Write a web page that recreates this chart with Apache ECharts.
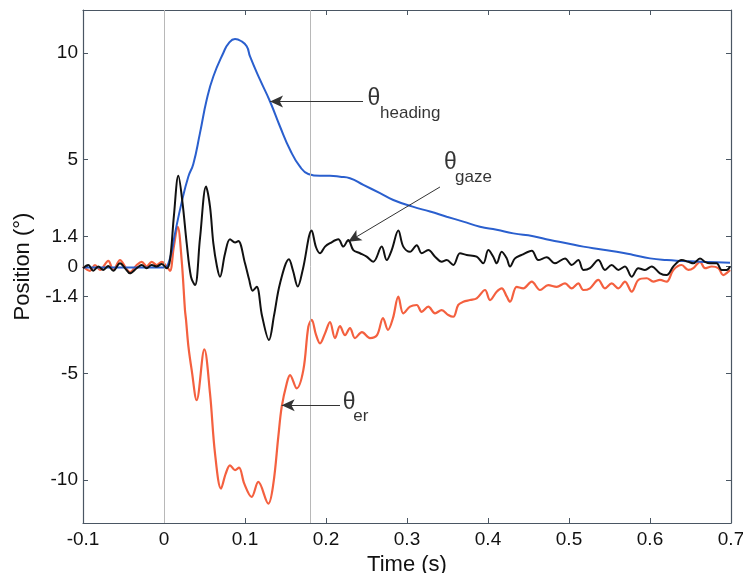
<!DOCTYPE html>
<html>
<head>
<meta charset="utf-8">
<script src="https://cdn.jsdelivr.net/npm/echarts@6/dist/echarts.min.js"></script>
<style>
html,body{margin:0;padding:0;background:#fff;}
#chart{width:743px;height:573px;}
</style>
</head>
<body>
<div id="chart"></div>
<script>
// ---- data (time in s, position in degrees) ----
const headingT = [-0.1,-0.05,0,0.0012,0.0074,0.0136,0.0218,0.03,0.0362,0.0444,0.0527,0.0609,0.0732,0.08,0.0877,0.095,0.1021,0.1062,0.1185,0.1309,0.1432,0.1556,0.1679,0.1781,0.1926,0.2049,0.2173,0.2296,0.2461,0.2667,0.2831,0.307,0.3284,0.349,0.3695,0.3901,0.4107,0.4313,0.4559,0.4765,0.4971,0.5177,0.5383,0.5589,0.5794,0.6,0.6206,0.6412,0.6617,0.6823,0.6988];
const headingV = [-0.05,-0.05,-0.05,-0.05,0.38,1.55,3.0,4.2,4.8,6.24,7.8,8.89,9.99,10.45,10.64,10.55,10.3,9.83,8.74,7.72,6.55,5.46,4.67,4.33,4.24,4.24,4.2,4.13,3.82,3.43,3.11,2.8,2.57,2.33,2.1,1.86,1.72,1.55,1.42,1.24,1.09,0.93,0.81,0.69,0.54,0.38,0.3,0.26,0.22,0.2,0.18];

const gazeT = [-0.1,-0.0935,-0.0873,-0.0811,-0.0749,-0.0688,-0.0626,-0.0543,-0.0481,-0.042,-0.0337,-0.0275,-0.0214,-0.0152,-0.009,-0.0028,0.0033,0.0074,0.0123,0.0177,0.0228,0.028,0.0333,0.0383,0.0444,0.0519,0.0568,0.0609,0.0654,0.0691,0.0753,0.0815,0.0877,0.0917,0.1,0.105,0.1095,0.1144,0.121,0.1296,0.1358,0.1432,0.1543,0.1593,0.1651,0.1716,0.1823,0.1877,0.1926,0.1988,0.2049,0.2152,0.2214,0.2275,0.2337,0.242,0.2502,0.2584,0.2688,0.2749,0.2811,0.2893,0.2954,0.3037,0.312,0.3181,0.3263,0.3346,0.3428,0.349,0.3572,0.3654,0.3737,0.386,0.3942,0.4004,0.4065,0.4107,0.4169,0.4231,0.4272,0.4333,0.4416,0.454,0.4621,0.4725,0.4827,0.4951,0.5033,0.5115,0.5177,0.5259,0.5362,0.5444,0.5527,0.5609,0.5691,0.5774,0.5856,0.5938,0.6021,0.6123,0.6206,0.6288,0.6391,0.6473,0.6535,0.6617,0.6679,0.6741,0.6823,0.6885,0.6947,0.6988];
const gazeV = [-0.08,0.07,-0.2,0,-0.16,0.02,-0.2,0.15,-0.08,-0.32,-0.08,0.07,-0.08,0.07,0,0.12,-0.08,0.3,2.4,4.24,3.0,1.09,-0.48,-0.87,1.3,3.74,2.8,1.09,0,-0.48,0.6,1.27,1.12,1.19,0.15,-0.6,-1.13,-0.95,-2.3,-3.44,-2.3,-0.79,0.34,-0.2,-0.94,-0.1,1.68,0.9,0.62,0.93,1.09,1.27,0.93,1.24,0.77,0.62,0.46,0.22,0.93,0.3,0.77,1.68,0.93,0.69,1.0,0.62,0.77,0.46,0.22,0.3,0.07,0.62,0.54,0.46,0.15,0.77,0.46,0.15,0.69,0.38,0,0.38,0.54,0.74,0.3,0.43,0.15,0.38,0.07,0.3,-0.16,-0.08,0.3,-0.16,0.07,-0.16,0,-0.48,-0.08,-0.16,0,-0.32,-0.4,0,0.3,0.22,0.15,0.38,0.22,0.15,0.15,-0.16,-0.16,0];

const erT = [-0.1,-0.0914,-0.0852,-0.079,-0.0688,-0.0626,-0.0543,-0.0469,-0.042,-0.0337,-0.0275,-0.0214,-0.0152,-0.009,-0.0028,0.0033,0.0074,0.012,0.0169,0.0218,0.0259,0.0272,0.0302,0.0342,0.0403,0.0498,0.0568,0.063,0.0704,0.0762,0.0815,0.0877,0.0926,0.0991,0.1082,0.1164,0.1288,0.135,0.1411,0.1453,0.1515,0.1556,0.1638,0.172,0.1782,0.1823,0.1877,0.1926,0.1988,0.2049,0.2111,0.2173,0.2235,0.2296,0.2358,0.2444,0.2543,0.263,0.2704,0.2765,0.2827,0.2893,0.2954,0.3037,0.312,0.3181,0.3263,0.3346,0.3428,0.351,0.3572,0.3633,0.3695,0.3778,0.386,0.3963,0.4025,0.4107,0.4169,0.4231,0.4272,0.4354,0.4436,0.454,0.4642,0.4744,0.4848,0.4951,0.5033,0.5115,0.5177,0.5259,0.5362,0.5444,0.5527,0.5609,0.5691,0.5774,0.5856,0.5959,0.6041,0.6123,0.6206,0.6288,0.6391,0.6473,0.6535,0.6617,0.6679,0.6762,0.6843,0.6905,0.6967,0.6988];
const erV = [0,-0.2,0.07,-0.16,0.26,-0.16,0.3,-0.08,-0.26,0.07,0.22,0,0.22,0.07,0.22,0,-0.2,0.9,1.86,0.3,-2.04,-2.5,-3.76,-4.85,-6.25,-3.88,-5.94,-8.75,-10.39,-9.69,-9.3,-9.53,-9.41,-10.16,-10.78,-10.08,-11.09,-10.16,-7.97,-6.57,-5.47,-5.08,-5.7,-4.85,-2.82,-2.5,-3.2,-3.6,-3.13,-2.6,-3.35,-2.79,-3.21,-2.88,-3.35,-3.07,-3.35,-3.21,-2.41,-2.97,-2.41,-1.41,-2.19,-1.88,-1.8,-2.12,-1.88,-2.19,-2.04,-2.27,-2.35,-1.8,-1.65,-1.57,-1.49,-1.1,-1.57,-1.18,-1.02,-1.4,-1.65,-0.95,-1.02,-0.71,-1.1,-0.87,-0.95,-0.79,-1.02,-0.79,-1.1,-1.02,-0.63,-1.02,-0.79,-1.02,-0.71,-1.18,-0.63,-0.55,-0.71,-0.63,-0.71,-0.16,0.07,-0.16,-0.08,0.22,-0.08,0,-0.08,-0.4,-0.24,-0.16];

const xTicks = [-0.1,0,0.1,0.2,0.3,0.4,0.5,0.6,0.7];
const yTicks = [-10,-5,-1.4,0,1.4,5,10];
const eventLines = [0, 0.1775];

// annotation text anchors [time, position, text] and arrows [[from],[to]]
const labelTheta = [[0.2512,7.85],[0.3457,4.87],[0.2206,-6.39]];
const labelSub = [[0.2667,7.19,'heading'],[0.3593,4.19,'gaze'],[0.2337,-7.0,'er']];
const arrows = [
  [[0.2457,7.72],[0.1309,7.72]],
  [[0.3407,3.72],[0.2275,1.16]],
  [[0.2173,-6.49],[0.1453,-6.49]]
];

const zip = (t,v) => t.map((x,i)=>[x,v[i]]);
const FONT = 'Liberation Sans, Arial, Helvetica, sans-serif';
const axisCol = '#4a5663';

const chart = echarts.init(document.getElementById('chart'));
chart.setOption({
  animation:false,
  backgroundColor:'#fff',
  grid:{left:83,right:12,top:10,bottom:50,containLabel:false,outerBoundsMode:'none'},
  xAxis:[{
    type:'value',min:-0.1,max:0.7,
    name:'Time (s)',nameLocation:'middle',nameGap:24,
    nameTextStyle:{fontFamily:FONT,fontSize:22,color:'#111'},
    axisLine:{show:true,onZero:false,lineStyle:{color:axisCol,width:1.2}},
    axisTick:{show:true,inside:true,length:5,customValues:xTicks,lineStyle:{color:axisCol}},
    axisLabel:{fontFamily:FONT,fontSize:19,color:'#111',margin:7,customValues:xTicks,
      hideOverlap:false,formatter:v=>String(Math.round(v*10)/10)},
    splitLine:{show:false}
  },{
    type:'value',min:-0.1,max:0.7,position:'top',
    axisLine:{show:true,onZero:false,lineStyle:{color:axisCol,width:1.2}},
    axisTick:{show:true,inside:true,length:5,customValues:xTicks,lineStyle:{color:axisCol}},
    axisLabel:{show:false},splitLine:{show:false}
  }],
  yAxis:[{
    type:'value',min:-12,max:12,
    name:'Position (°)',nameLocation:'middle',nameGap:46,nameRotate:90,
    nameTextStyle:{fontFamily:FONT,fontSize:22,color:'#111'},
    axisLine:{show:true,onZero:false,lineStyle:{color:axisCol,width:1.2}},
    axisTick:{show:true,inside:true,length:5,customValues:yTicks,lineStyle:{color:axisCol}},
    axisLabel:{fontFamily:FONT,fontSize:19,color:'#111',margin:5,customValues:yTicks,
      hideOverlap:false,formatter:v=>String(Math.round(v*10)/10)},
    splitLine:{show:false}
  },{
    type:'value',min:-12,max:12,position:'right',
    axisLine:{show:true,onZero:false,lineStyle:{color:axisCol,width:1.2}},
    axisTick:{show:true,inside:true,length:5,customValues:yTicks,lineStyle:{color:axisCol}},
    axisLabel:{show:false},splitLine:{show:false}
  }],
  series:[
    {
      name:'events',type:'line',data:[],
      markLine:{silent:true,symbol:['none','none'],label:{show:false},
        lineStyle:{color:'#b8b8b8',width:1,type:'solid'},
        data:eventLines.map(x=>({xAxis:x}))}
    },
    {
      name:'θer',type:'line',data:zip(erT,erV),showSymbol:false,smooth:0.35,
      lineStyle:{color:'#f4603f',width:2.2},z:3
    },
    {
      name:'θheading',type:'line',data:zip(headingT,headingV),showSymbol:false,smooth:0.5,
      lineStyle:{color:'#2a5fce',width:2},z:4
    },
    {
      name:'θgaze',type:'line',data:zip(gazeT,gazeV),showSymbol:false,smooth:0.35,
      lineStyle:{color:'#111',width:2},z:5,
      markLine:{silent:true,symbol:['none','arrow'],symbolSize:[9,13],label:{show:false},
        lineStyle:{color:'#333',width:1,type:'solid'},
        data:arrows.map(a=>[{coord:a[0]},{coord:a[1]}])}
    },
    {
      name:'theta',type:'scatter',symbolSize:0,silent:true,z:6,
      data:labelTheta,
      label:{show:true,position:'right',distance:0,align:'left',verticalAlign:'middle',
        formatter:'θ',fontFamily:FONT,fontSize:23,color:'#000'}
    },
    {
      name:'sub',type:'scatter',symbolSize:0,silent:true,z:6,
      data:labelSub,
      label:{show:true,position:'right',distance:0,align:'left',verticalAlign:'middle',
        formatter:p=>p.data[2],fontFamily:FONT,fontSize:17,color:'#000'}
    }
  ]
});
</script>
</body>
</html>
